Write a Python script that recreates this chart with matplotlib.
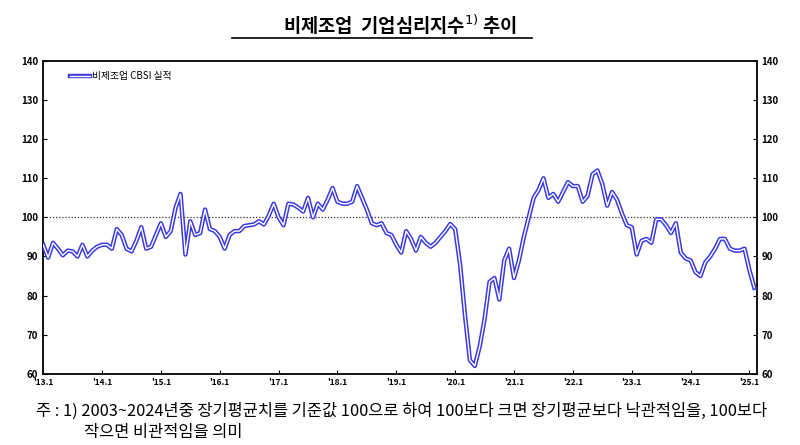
import numpy as np
import matplotlib.pyplot as plt
from matplotlib.lines import Line2D

plt.rcParams['font.family'] = 'Noto Sans CJK KR'

# monthly non-manufacturing CBSI, 2013.1 ~ 2025.2
y2013 = [93, 89.7, 93.5, 92, 90.3, 91.5, 91.3, 90, 93, 90, 91.5, 92.5]
y2014 = [93, 93, 92, 97, 95.5, 92, 91.3, 94, 97.5, 92, 92.5, 95.5]
y2015 = [98.5, 95, 96.5, 102.5, 106, 90.5, 99, 95.5, 96, 102, 97, 96.5]
y2016 = [95, 92, 95.5, 96.5, 96.5, 97.8, 98, 98.2, 99, 98.2, 100.5, 103.5]
y2017 = [100, 98, 103.5, 103.3, 102.5, 101.5, 105, 100, 103.5, 102, 104.5, 107.5]
y2018 = [104, 103.5, 103.5, 104, 108, 105, 102, 98.5, 98, 98.5, 96, 95.5]
y2019 = [93, 91, 96.5, 94.5, 91.5, 95, 93.5, 92.5, 93.5, 95, 96.5, 98.3]
y2020 = [97, 88, 75, 63.5, 62, 67, 74, 83.5, 84.5, 79, 89, 92]
y2021 = [84.5, 89, 95, 100, 105, 107, 110, 105, 106, 104, 106.5, 109]
y2022 = [108, 108, 104, 105.5, 111, 112, 108.5, 103, 106.5, 104.5, 101, 98]
y2023 = [97.5, 90.5, 94, 94.5, 93.5, 99.5, 99.5, 98, 96, 98.5, 91, 89.5]
y2024 = [89, 86, 85, 88.5, 90, 92, 94.5, 94.5, 92, 91.5, 91.5, 92]
y2025 = [86.5, 82]

cbsi = (y2013 + y2014 + y2015 + y2016 + y2017 + y2018 + y2019 + y2020
        + y2021 + y2022 + y2023 + y2024 + y2025)
tick_labels = ["'13.1", "'14.1", "'15.1", "'16.1", "'17.1", "'18.1", "'19.1",
               "'20.1", "'21.1", "'22.1", "'23.1", "'24.1", "'25.1"]

x = np.arange(len(cbsi))

fig = plt.figure(figsize=(8, 4.45), dpi=100, facecolor='white')
ax = fig.add_axes([0.054, 0.16, 0.892, 0.703])

# double line: blue outline with white core
ax.plot(x, cbsi, color='#3a3ae0', linewidth=3.2, solid_joinstyle='round', zorder=3)
ax.plot(x, cbsi, color='white', linewidth=1.0, solid_joinstyle='round', zorder=4)
ax.axhline(100, color='#333333', linestyle=(0, (1, 1.5)), linewidth=0.9, zorder=2)

ax.set_xlim(0, len(cbsi) - 0.5)
ax.set_ylim(60, 140)
ax.set_yticks(range(60, 141, 10))
ax.set_xticks(np.arange(0, len(cbsi), 12))
ax.set_xticklabels(tick_labels, fontsize=6, fontweight='bold')
ax.tick_params(axis='y', labelsize=7, direction='in', length=3,
               left=True, right=True, labelleft=True, labelright=True)
ax.tick_params(axis='x', direction='in', length=3, pad=3)
for lab in ax.get_yticklabels():
    lab.set_fontweight('bold')
for s in ax.spines.values():
    s.set_linewidth(1.3)

# legend
ax.plot([5.5, 9.5], [136.2, 136.2], color='#3a3ae0', linewidth=3.2, zorder=5)
ax.plot([5.5, 9.5], [136.2, 136.2], color='white', linewidth=1.0, zorder=6)
ax.text(10, 136.2, '비제조업 CBSI 실적', fontsize=7, va='center')

fig.text(0.5, 0.945, '비제조업  기업심리지수$^{1)}$ 추이', ha='center', va='center',
         fontsize=13.5, fontweight='bold')
fig.add_artist(Line2D([0.29, 0.665], [0.915, 0.915], color='black', linewidth=1.2))

fig.text(0.045, 0.075, '주 : 1) 2003~2024년중 장기평균치를 기준값 100으로 하여 100보다 크면 장기평균보다 낙관적임을, 100보다',
         fontsize=11.8, va='center')
fig.text(0.105, 0.027, '작으면 비관적임을 의미', fontsize=11.8, va='center')

fig.savefig('out.png', dpi=100, facecolor='white')
